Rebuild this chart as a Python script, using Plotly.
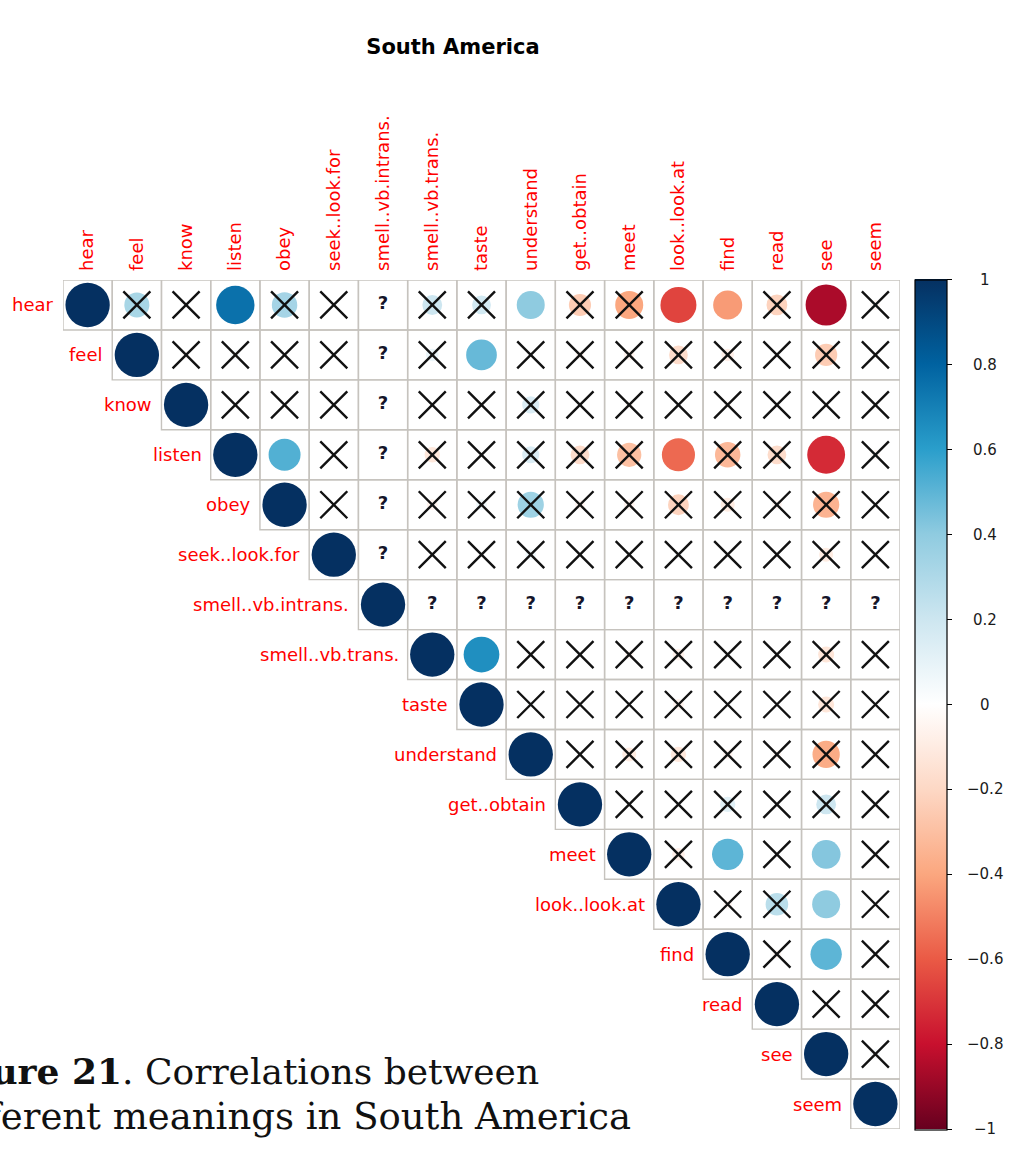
import math
import plotly.graph_objects as go

# ---- data -------------------------------------------------------------
VARS = ["hear", "feel", "know", "listen", "obey", "seek..look.for",
        "smell..vb.intrans.", "smell..vb.trans.", "taste", "understand",
        "get..obtain", "meet", "look..look.at", "find", "read", "see", "seem"]

# upper triangle of the correlation matrix, each row starting at the diagonal
# (None = correlation not available)
R_HEAR = [1, 0.32, 0.02, 0.75, 0.33, 0.0, None, 0.2, 0.18, 0.4, -0.25, -0.4,
          -0.66, -0.43, -0.22, -0.86, -0.05]
R_FEEL = [1, -0.03, 0.05, 0.0, 0.0, None, 0.08, 0.48, 0.0, -0.04, -0.06, -0.18,
          -0.08, 0.0, -0.25, 0.0]
R_KNOW = [1, 0.0, 0.0, 0.0, None, 0.0, 0.0, 0.15, 0.0, -0.03, 0.0, -0.03, 0.0,
          0.0, 0.0]
R_LISTEN = [1, 0.52, 0.0, None, -0.12, 0.0, 0.15, -0.18, -0.3, -0.56, -0.33,
            -0.18, -0.73, -0.05]
R_OBEY = [1, 0.0, None, -0.06, 0.06, 0.35, -0.05, -0.06, -0.22, -0.1, -0.05,
          -0.35, 0.0]
R_SEEK = [1, None, 0.0, 0.0, 0.06, 0.0, 0.0, 0.03, 0.0, 0.0, -0.1, 0.0]
R_SMELL_INTR = [1, None, None, None, None, None, None, None, None, None, None]
R_SMELL_TR = [1, 0.65, 0.0, 0.0, -0.04, -0.07, 0.0, 0.0, -0.13, 0.0]
R_TASTE = [1, 0.03, 0.0, 0.0, -0.06, 0.0, 0.0, -0.13, 0.0]
R_UNDERSTAND = [1, 0.0, -0.1, -0.12, -0.05, -0.04, -0.38, 0.0]
R_GET = [1, 0.0, 0.0, 0.12, 0.0, 0.2, 0.0]
R_MEET = [1, -0.08, 0.5, 0.0, 0.42, 0.0]
R_LOOK = [1, -0.04, 0.26, 0.4, 0.0]
R_FIND = [1, -0.04, 0.5, 0.0]
R_READ = [1, 0.0, 0.0]
R_SEE = [1, 0.05]
R_SEEM = [1]

CORR_ROWS = [R_HEAR, R_FEEL, R_KNOW, R_LISTEN, R_OBEY, R_SEEK, R_SMELL_INTR,
             R_SMELL_TR, R_TASTE, R_UNDERSTAND, R_GET, R_MEET, R_LOOK, R_FIND,
             R_READ, R_SEE, R_SEEM]

# off-diagonal pairs that pass the significance test (all others get a cross)
SIGNIFICANT = [("hear", "listen"), ("hear", "understand"), ("hear", "look..look.at"),
               ("hear", "find"), ("hear", "see"), ("feel", "taste"),
               ("listen", "obey"), ("listen", "look..look.at"), ("listen", "see"),
               ("smell..vb.trans.", "taste"), ("meet", "find"), ("meet", "see"),
               ("look..look.at", "see"), ("find", "see")]

CBAR_TICKS = [1, 0.8, 0.6, 0.4, 0.2, 0, -0.2, -0.4, -0.6, -0.8, -1]

TITLE = "South America"
CAPTION_LINE1 = "<b>Figure 21</b>. Correlations between"
CAPTION_LINE2 = "different meanings in South America"

# ---- layout geometry --------------------------------------------------
W, H = 1013, 1151
ML, MR, MT, MB = 63, 113, 280, 22
PW, PH = W - ML - MR, H - MT - MB
N = len(VARS)
CELL = min(PW, PH) / N

# diverging red-white-blue scale from -1 to 1
DIVERGING = ["#67001F", "#C8102E", "#EA5A45", "#FBA77F", "#FDD8C5", "#FFFFFF",
             "#CDE6F0", "#8FCBE0", "#2A9ECB", "#0062A0", "#053061"]
COLORSCALE = [[k / (len(DIVERGING) - 1), c] for k, c in enumerate(DIVERGING)]

LABEL_FONT = dict(family="DejaVu Sans", size=18, color="#FF0000")


def px_to_paper_x(px):
    return (px - ML) / PW


def px_to_paper_y(py):
    return (H - MB - py) / PH


sig_set = {(VARS.index(a), VARS.index(b)) for a, b in SIGNIFICANT}

circ_x, circ_y, circ_c, circ_s = [], [], [], []
cross_x, cross_y = [], []
na_x, na_y = [], []
shapes = []
for i, row in enumerate(CORR_ROWS):
    for k, r in enumerate(row):
        j = i + k
        shapes.append(dict(type="rect", xref="x", yref="y",
                           x0=j - 0.5, x1=j + 0.5, y0=i - 0.5, y1=i + 0.5,
                           line=dict(color="#C6C3BE", width=1.4),
                           fillcolor="rgba(0,0,0,0)", layer="below"))
        if r is None:
            na_x.append(j)
            na_y.append(i)
            continue
        circ_x.append(j)
        circ_y.append(i)
        circ_c.append(r)
        circ_s.append(0.9 * math.sqrt(abs(r)) * CELL)
        if j != i and (i, j) not in sig_set:
            cross_x.append(j)
            cross_y.append(i)

fig = go.Figure()

fig.add_trace(go.Scatter(
    x=circ_x, y=circ_y, mode="markers", hoverinfo="skip",
    marker=dict(symbol="circle", size=circ_s, sizemode="diameter",
                color=circ_c, cmin=-1, cmax=1, colorscale=COLORSCALE,
                line=dict(width=0), opacity=1,
                showscale=True,
                colorbar=dict(thickness=32, thicknessmode="pixels",
                              len=850, lenmode="pixels",
                              x=px_to_paper_x(915), xanchor="left", xpad=0,
                              y=0.5, yanchor="middle", ypad=0,
                              outlinewidth=1.2, outlinecolor="#000000",
                              tickvals=CBAR_TICKS, ticks="outside", ticklen=5,
                              tickwidth=1.2, tickcolor="#000000",
                              showticklabels=False)),
    showlegend=False))

fig.add_trace(go.Scatter(
    x=cross_x, y=cross_y, mode="markers", hoverinfo="skip",
    marker=dict(symbol="x-thin", size=27, color="#000000",
                line=dict(width=2.4, color="#111111")),
    showlegend=False))

fig.add_trace(go.Scatter(
    x=na_x, y=na_y, mode="text", text=["?"] * len(na_x), hoverinfo="skip",
    textposition="middle center",
    textfont=dict(family="DejaVu Sans", size=18, color="#15152a",
                  weight="bold"),
    showlegend=False))

annotations = []
# row labels placed just left of each diagonal cell
for i, name in enumerate(VARS):
    annotations.append(dict(x=i - 0.5, y=i, xref="x", yref="y", text=name,
                            showarrow=False, xanchor="right", yanchor="middle",
                            xshift=-7, font=LABEL_FONT))

# colour-bar tick labels
for v in CBAR_TICKS:
    txt = ("%g" % v).replace("-", "\u2212")
    annotations.append(dict(x=px_to_paper_x(985), y=(v + 1) / 2,
                            xref="paper", yref="paper", text=txt,
                            showarrow=False, xanchor="center", yanchor="middle",
                            font=dict(family="DejaVu Sans", size=15,
                                      color="#1a1a1a")))

# caption below the plot
annotations.append(dict(x=px_to_paper_x(541), y=px_to_paper_y(1071),
                        xref="paper", yref="paper", text=CAPTION_LINE1,
                        showarrow=False, xanchor="right", yanchor="middle",
                        font=dict(family="DejaVu Serif", size=36,
                                  color="#111111")))
annotations.append(dict(x=px_to_paper_x(633), y=px_to_paper_y(1116),
                        xref="paper", yref="paper", text=CAPTION_LINE2,
                        showarrow=False, xanchor="right", yanchor="middle",
                        font=dict(family="DejaVu Serif", size=37,
                                  color="#111111")))

fig.update_layout(
    width=W, height=H,
    margin=dict(l=ML, r=MR, t=MT, b=MB, pad=0),
    paper_bgcolor="#FFFFFF", plot_bgcolor="#FFFFFF",
    title=dict(text="<b>%s</b>" % TITLE, x=453 / W, xanchor="center",
               y=1 - 47 / H, yanchor="middle",
               font=dict(family="DejaVu Sans", size=21, color="#000000")),
    xaxis=dict(range=[-0.5, N - 0.5], side="top", tickmode="array",
               tickvals=list(range(N)), ticktext=VARS, tickangle=-90,
               tickfont=LABEL_FONT, ticks="", ticklabelstandoff=8,
               showgrid=False, zeroline=False, showline=False,
               fixedrange=True),
    yaxis=dict(range=[N - 0.5, -0.5], showticklabels=False, ticks="",
               showgrid=False, zeroline=False, showline=False,
               fixedrange=True),
    shapes=shapes,
    annotations=annotations,
)

fig.write_html("out.html")
